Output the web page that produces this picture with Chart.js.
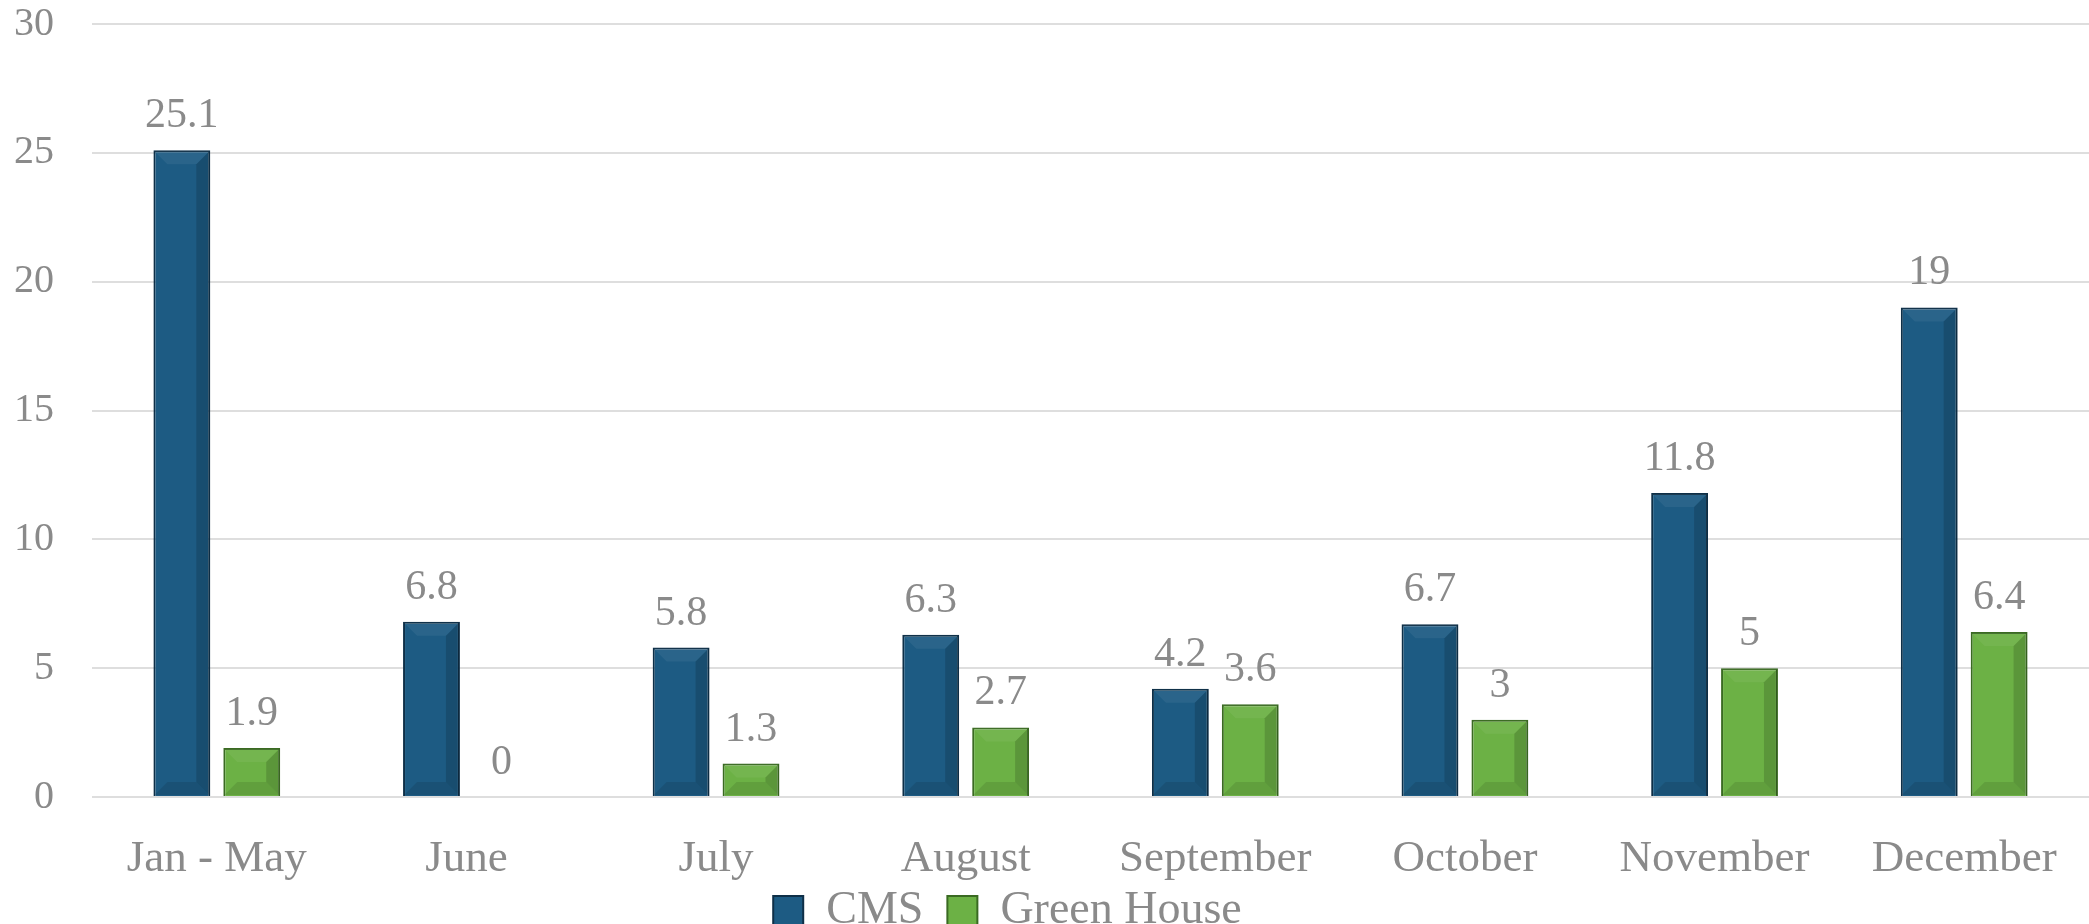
<!DOCTYPE html>
<html lang="en">

<head>
    <title>CMS vs Green House</title>
    <script src="https://cdn.jsdelivr.net/npm/chart.js"></script>
    <style>
        body {
            margin: 0;
            background: #fff;
        }

        #wrap {
            width: 2089px;
            height: 924px;
        }
    </style>
</head>

<body>
    <div id="wrap">
        <canvas id="barChart" width="2089" height="924"></canvas>
    </div>
    <script>
        const months = ['Jan - May', 'June', 'July', 'August', 'September', 'October', 'November', 'December'];
        const cmsValues = [25.1, 6.8, 5.8, 6.3, 4.2, 6.7, 11.8, 19];
        const greenHouseValues = [1.9, 0, 1.3, 2.7, 3.6, 3, 5, 6.4];
        const yTicks = [0, 5, 10, 15, 20, 25, 30];

        const fontFamily = '"Liberation Serif", "DejaVu Serif", serif';
        const textGray = '#8a8a8a';

        // soft bevel on the bars, then the value above each one
        const barDecor = {
            id: 'barDecor',
            afterDatasetsDraw(chart) {
                const ctx = chart.ctx;
                ctx.save();
                chart.data.datasets.forEach((ds, i) => {
                    chart.getDatasetMeta(i).data.forEach(bar => {
                        const l = bar.x - bar.width / 2 + 1, r = bar.x + bar.width / 2 - 1;
                        const t = bar.y + 1, b = bar.base - 1;
                        const d = Math.min(13, (r - l) / 2, (b - t) / 2);
                        if (d <= 1) return;
                        // right edge darker
                        ctx.fillStyle = 'rgba(0,0,0,0.15)';
                        ctx.beginPath();
                        ctx.moveTo(r, t); ctx.lineTo(r - d, t + d); ctx.lineTo(r - d, b - d); ctx.lineTo(r, b);
                        ctx.fill();
                        // bottom edge darker
                        ctx.fillStyle = 'rgba(0,0,0,0.1)';
                        ctx.beginPath();
                        ctx.moveTo(l, b); ctx.lineTo(l + d, b - d); ctx.lineTo(r - d, b - d); ctx.lineTo(r, b);
                        ctx.fill();
                        // top edge lighter
                        ctx.fillStyle = 'rgba(255,255,255,0.06)';
                        ctx.beginPath();
                        ctx.moveTo(l, t); ctx.lineTo(l + d, t + d); ctx.lineTo(r - d, t + d); ctx.lineTo(r, t);
                        ctx.fill();
                    });
                });

                ctx.font = '42px ' + fontFamily;
                ctx.fillStyle = textGray;
                ctx.textAlign = 'center';
                ctx.textBaseline = 'bottom';
                chart.data.datasets.forEach((ds, i) => {
                    chart.getDatasetMeta(i).data.forEach((bar, j) => {
                        ctx.fillText(String(ds.data[j]), bar.x, bar.y - 13);
                    });
                });
                ctx.restore();
            }
        };

        // let the month labels run below the short x axis box, nudge legend left
        const layoutTweaks = {
            id: 'layoutTweaks',
            afterLayout(chart) {
                chart.scales.x.bottom = chart.height;
                chart.legend.left -= 44;
                chart.legend.right -= 44;
            }
        };

        const ctx = document.getElementById('barChart').getContext('2d');
        new Chart(ctx, {
            type: 'bar',
            data: {
                labels: months,
                datasets: [{
                    label: 'CMS',
                    data: cmsValues,
                    backgroundColor: '#1d5b83',
                    borderColor: '#0e2f47',
                    borderWidth: 2,
                    categoryPercentage: 0.56,
                    barPercentage: 0.814
                }, {
                    label: 'Green House',
                    data: greenHouseValues,
                    backgroundColor: '#6cb145',
                    borderColor: '#3a6a22',
                    borderWidth: 2,
                    categoryPercentage: 0.56,
                    barPercentage: 0.814
                }]
            },
            options: {
                responsive: false,
                animation: false,
                layout: { padding: { left: 14, right: 0, top: 24, bottom: -20 } },
                plugins: {
                    legend: {
                        position: 'bottom',
                        labels: {
                            font: { family: fontFamily, size: 46 },
                            color: textGray,
                            boxWidth: 30,
                            boxHeight: 30,
                            padding: 24
                        }
                    },
                    tooltip: { enabled: false }
                },
                scales: {
                    x: {
                        grid: { display: false },
                        border: { display: false },
                        ticks: {
                            font: { family: fontFamily, size: 45 },
                            color: textGray,
                            padding: 27
                        },
                        afterFit: axis => {
                            axis.height = 67;
                        }
                    },
                    y: {
                        min: yTicks[0],
                        max: yTicks[yTicks.length - 1],
                        afterBuildTicks: axis => {
                            axis.ticks = yTicks.map(v => ({ value: v }));
                        },
                        afterFit: axis => {
                            axis.width = 78;
                            axis.paddingTop = 0;
                            axis.paddingBottom = 0;
                        },
                        grid: { color: '#dedede', lineWidth: 2, drawTicks: false },
                        border: { display: false },
                        ticks: {
                            font: { family: fontFamily, size: 40 },
                            color: textGray,
                            padding: 38
                        }
                    }
                }
            },
            plugins: [barDecor, layoutTweaks]
        });
    </script>
</body>

</html>
